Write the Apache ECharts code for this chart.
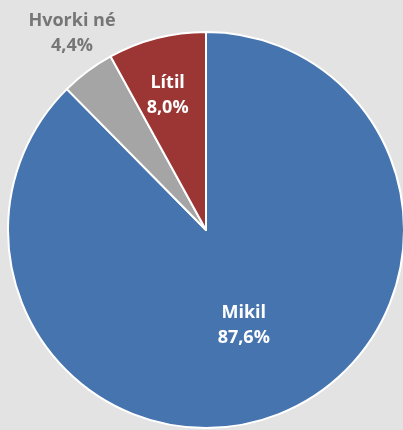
<!DOCTYPE html>
<html><head><meta charset="utf-8">
<script src="https://cdn.jsdelivr.net/npm/echarts@6/dist/echarts.min.js"></script>
<style>html,body{margin:0;padding:0;background:#e3e3e3;}#c{width:403px;height:430px;}</style>
</head><body><div id="c"></div>
<script>
const categories = ['Mikil', 'Hvorki né', 'Lítil'];
const values = [87.6, 4.4, 8.0];
const colors = ['#4674af', '#a5a5a5', '#9c3634'];
const labelColors = ['#ffffff', '#767676', '#ffffff'];
const shifts = [[-1, 1], [-73, -115], [-13, -36]];

const chart = echarts.init(document.getElementById('c'));
chart.setOption({
  backgroundColor: '#e3e3e3',
  animation: false,
  series: [{
    type: 'pie',
    center: [206, 230],
    radius: [0, 198],
    startAngle: 90,
    clockwise: true,
    itemStyle: { borderColor: '#ffffff', borderWidth: 2 },
    label: {
      show: true,
      position: 'inside',
      fontFamily: 'Open Sans',
      fontWeight: 'bold',
      fontSize: 18,
      lineHeight: 25,
      formatter: p => p.name + '\n' + p.value.toFixed(1).replace('.', ',') + '%'
    },
    labelLine: { show: false },
    labelLayout: p => ({ dx: shifts[p.dataIndex][0], dy: shifts[p.dataIndex][1] }),
    data: categories.map((c, i) => ({
      name: c, value: values[i],
      itemStyle: { color: colors[i] },
      label: { color: labelColors[i] }
    }))
  }]
});
</script></body></html>
